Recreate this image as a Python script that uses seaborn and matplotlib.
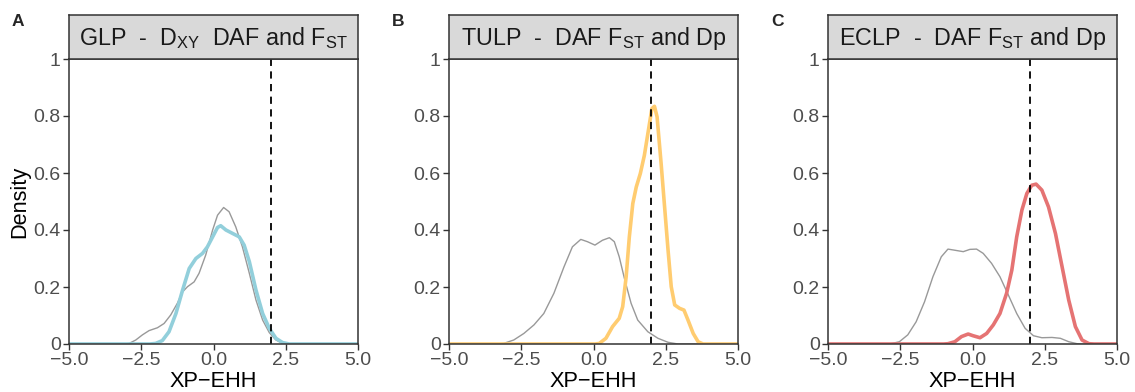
import matplotlib
matplotlib.use("Agg")
import matplotlib.pyplot as plt
import seaborn as sns

# ---- data (XP-EHH value, density) ----
glp_bg_x = [-5.0, -3.1, -2.92, -2.69, -2.46, -2.23, -1.94, -1.71, -1.48, -1.25, -1.07, -0.90, -0.67, -0.50, -0.27,
            -0.03, 0.14, 0.35, 0.54, 0.77, 1.00, 1.24, 1.47, 1.70, 1.93, 2.16, 2.39, 2.62, 5.0]
glp_bg_y = [0.0, 0.0, 0.002, 0.014, 0.032, 0.047, 0.057, 0.072, 0.102, 0.143, 0.183, 0.201, 0.218, 0.248, 0.312,
            0.40, 0.452, 0.479, 0.464, 0.411, 0.341, 0.248, 0.154, 0.084, 0.040, 0.014, 0.002, 0.0, 0.0]
glp_sel_x = [-5.0, -2.2, -2.0, -1.77, -1.54, -1.30, -1.07, -0.84, -0.61, -0.38, -0.21, -0.03, 0.14, 0.25, 0.43,
             0.66, 0.89, 1.06, 1.24, 1.47, 1.70, 1.93, 2.16, 2.39, 2.62, 5.0]
glp_sel_y = [0.0, 0.0, 0.002, 0.012, 0.043, 0.107, 0.189, 0.265, 0.30, 0.318, 0.341, 0.376, 0.409, 0.415, 0.40,
             0.388, 0.376, 0.347, 0.289, 0.189, 0.107, 0.055, 0.020, 0.005, 0.0, 0.0]

tulp_bg_x = [-5.0, -3.3, -3.11, -2.76, -2.41, -2.06, -1.72, -1.37, -1.02, -0.73, -0.44, -0.21, 0.05, 0.31, 0.55,
             0.72, 0.89, 1.07, 1.30, 1.53, 1.88, 2.23, 2.58, 2.92, 5.0]
tulp_bg_y = [0.0, 0.0, 0.002, 0.014, 0.037, 0.067, 0.107, 0.178, 0.271, 0.341, 0.367, 0.359, 0.347, 0.364, 0.373,
             0.359, 0.306, 0.230, 0.143, 0.084, 0.043, 0.020, 0.006, 0.0, 0.0]
tulp_sel_x = [-5.0, 0.05, 0.20, 0.43, 0.66, 0.89, 1.01, 1.13, 1.24, 1.36, 1.48, 1.62, 1.76, 1.90, 2.02, 2.11,
              2.20, 2.34, 2.46, 2.58, 2.69, 2.81, 2.98, 3.13, 3.27, 3.45, 3.62, 3.79, 5.0]
tulp_sel_y = [0.0, 0.0, 0.002, 0.020, 0.061, 0.090, 0.131, 0.236, 0.376, 0.493, 0.551, 0.598, 0.662, 0.75, 0.826,
              0.834, 0.797, 0.633, 0.481, 0.329, 0.201, 0.137, 0.125, 0.119, 0.084, 0.037, 0.008, 0.0, 0.0]

eclp_bg_x = [-5.0, -3.0, -2.82, -2.53, -2.24, -1.95, -1.66, -1.37, -1.08, -0.85, -0.61, -0.32, -0.09, 0.14, 0.37,
             0.66, 0.95, 1.24, 1.53, 1.82, 2.11, 2.40, 2.75, 3.04, 3.33, 3.62, 3.8, 5.0]
eclp_bg_y = [0.0, 0.0, 0.001, 0.008, 0.032, 0.078, 0.148, 0.236, 0.306, 0.333, 0.329, 0.324, 0.332, 0.333, 0.318,
             0.283, 0.236, 0.172, 0.107, 0.055, 0.029, 0.022, 0.023, 0.020, 0.008, 0.001, 0.0, 0.0]
eclp_sel_x = [-5.0, -1.0, -0.85, -0.61, -0.38, -0.15, 0.02, 0.26, 0.49, 0.72, 0.95, 1.18, 1.36, 1.53, 1.71, 1.88,
              2.05, 2.20, 2.40, 2.63, 2.87, 3.10, 3.33, 3.56, 3.79, 4.03, 4.2, 5.0]
eclp_sel_y = [0.0, 0.0, 0.001, 0.008, 0.026, 0.035, 0.029, 0.022, 0.037, 0.067, 0.107, 0.178, 0.259, 0.376, 0.47,
              0.528, 0.557, 0.561, 0.54, 0.481, 0.388, 0.271, 0.154, 0.061, 0.014, 0.001, 0.0, 0.0]

threshold = 2.0
panel_letters = ["A", "B", "C"]
panel_titles = [
    r"GLP  -  D$_{\mathrm{XY}}$  DAF and F$_{\mathrm{ST}}$",
    r"TULP  -  DAF F$_{\mathrm{ST}}$ and Dp",
    r"ECLP  -  DAF F$_{\mathrm{ST}}$ and Dp",
]
sel_colors = ["#92CFDB", "#FFCC70", "#E57373"]
x_ticks = [-5.0, -2.5, 0.0, 2.5, 5.0]
x_tick_labels = ["\u22125.0", "\u22122.5", "0.0", "2.5", "5.0"]
y_ticks = [0, 0.2, 0.4, 0.6, 0.8, 1]
y_tick_labels = ["0", "0.2", "0.4", "0.6", "0.8", "1"]

sns.set_theme(style="ticks")
plt.rcParams["font.family"] = ["Liberation Sans", "DejaVu Sans"]
plt.rcParams["mathtext.fontset"] = "custom"
plt.rcParams["mathtext.rm"] = "Liberation Sans"
plt.rcParams["mathtext.it"] = "Liberation Sans:italic"

W, H = 1135, 392
fig = plt.figure(figsize=(W / 100, H / 100), dpi=100)

lefts = [69, 449, 828]
ax_w = 289
ax_top, ax_bot = 59, 344
strip_top = 15

bgs = [(glp_bg_x, glp_bg_y), (tulp_bg_x, tulp_bg_y), (eclp_bg_x, eclp_bg_y)]
sels = [(glp_sel_x, glp_sel_y), (tulp_sel_x, tulp_sel_y), (eclp_sel_x, eclp_sel_y)]

for i in range(3):
    l = lefts[i]
    ax = fig.add_axes([l / W, 1 - ax_bot / H, ax_w / W, (ax_bot - ax_top) / H])
    bx, by = bgs[i]
    sx, sy = sels[i]
    sns.lineplot(x=bx, y=by, ax=ax, color="#999999", linewidth=1.0, sort=False)
    sns.lineplot(x=sx, y=sy, ax=ax, color=sel_colors[i], linewidth=2.6, sort=False,
                 solid_joinstyle="round", solid_capstyle="round")
    ax.axvline(threshold, color="black", linestyle=(0, (4, 3)), linewidth=1.3)
    ax.set_xlim(-5, 5)
    ax.set_ylim(0, 1)
    ax.set_xticks(x_ticks)
    ax.set_xticklabels(x_tick_labels)
    ax.set_yticks(y_ticks)
    ax.set_yticklabels(y_tick_labels)
    ax.tick_params(labelsize=14, labelcolor="#4D4D4D", color="#333333", length=4, width=1, pad=2)
    for s in ax.spines.values():
        s.set_visible(True)
        s.set_color("#333333")
        s.set_linewidth(1.1)
    ax.set_xlabel("XP\u2212EHH", fontsize=15.7, labelpad=1, color="black")
    if i == 0:
        ax.set_ylabel("Density", fontsize=15.7, labelpad=2, color="black")
    else:
        ax.set_ylabel("")
    # strip
    sax = fig.add_axes([l / W, 1 - ax_top / H, ax_w / W, (ax_top - strip_top) / H])
    sax.set_facecolor("#D9D9D9")
    sax.set_xticks([])
    sax.set_yticks([])
    for s in sax.spines.values():
        s.set_color("#333333")
        s.set_linewidth(1.1)
    sax.text(0.5, 0.47, panel_titles[i], ha="center", va="center", fontsize=16.8, color="#1A1A1A",
             transform=sax.transAxes)
    fig.text((l - 57) / W, 1 - 22 / H, panel_letters[i], fontsize=12.5, fontweight="bold",
             ha="left", va="center")

fig.savefig("out.png", dpi=100)
